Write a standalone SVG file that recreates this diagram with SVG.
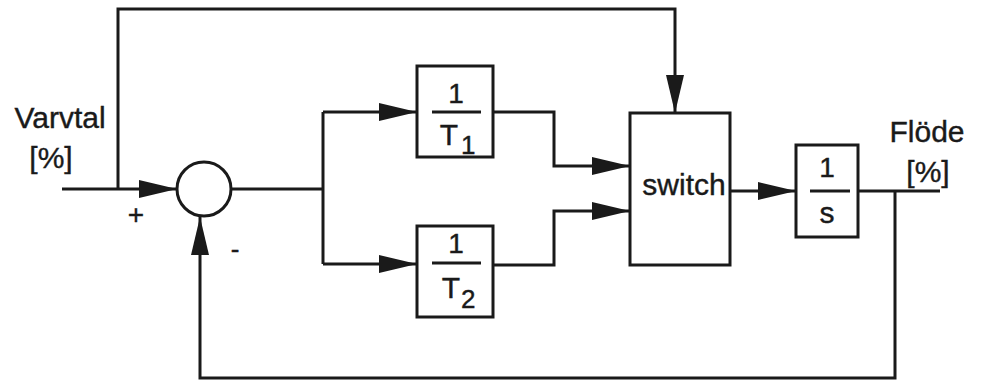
<svg xmlns="http://www.w3.org/2000/svg" width="982" height="381" viewBox="0 0 982 381">
<style>
.ln{fill:none;stroke:#1a1a1a;stroke-width:3}
.bx{fill:#fff;stroke:#1a1a1a;stroke-width:3}
.t{font-family:"Liberation Sans",Arial,sans-serif;fill:#1a1a1a;stroke:#1a1a1a;stroke-width:0.4}
.arr{fill:none;stroke:#1a1a1a;stroke-width:3;marker-end:url(#ah)}
</style>
<defs>
<marker id="ah" markerUnits="userSpaceOnUse" markerWidth="38" markerHeight="18" refX="38" refY="9" orient="auto" viewBox="0 0 38 18">
<path d="M0,0 L38,9 L0,18 Z" fill="#1a1a1a"/>
</marker>
</defs>
<rect width="982" height="381" fill="#fff"/>
<g id="connectors">
<path class="arr" d="M62,189 H177"/>
<path class="arr" d="M118,189 V9 H675 V113"/>
<path class="ln" d="M231,189 H323"/>
<path class="ln" d="M323,112 V264"/>
<path class="arr" d="M323,112 H417"/>
<path class="arr" d="M323,264 H417"/>
<path class="arr" d="M493,112 H554 V166 H630"/>
<path class="arr" d="M493,265 H554 V211 H630"/>
<path class="arr" d="M730,191 H796"/>
<path class="ln" d="M858,191 H940"/>
<path class="arr" d="M895,191 V378 H200 V217"/>
</g>
<g id="sum">
<circle class="bx" cx="204" cy="189" r="27"/>
<text class="t" x="136" y="224" font-size="28" text-anchor="middle">+</text>
<text class="t" x="235" y="258" font-size="26" text-anchor="middle">-</text>
</g>
<g id="input-label">
<text class="t" x="60" y="128" font-size="30" text-anchor="middle">Varvtal</text>
<text class="t" x="51" y="168" font-size="30" text-anchor="middle">[%]</text>
</g>
<g id="T1">
<rect class="bx" x="417" y="66" width="76" height="91"/>
<text class="t" x="456" y="103" font-size="28" text-anchor="middle">1</text>
<line class="ln" x1="432" y1="112" x2="481" y2="112"/>
<text class="t" x="449" y="145" font-size="30" text-anchor="middle">T</text>
<text class="t" x="461" y="154" font-size="26">1</text>
</g>
<g id="T2">
<rect class="bx" x="417" y="226" width="76" height="91"/>
<text class="t" x="456" y="253" font-size="28" text-anchor="middle">1</text>
<line class="ln" x1="432" y1="263" x2="481" y2="263"/>
<text class="t" x="451" y="298" font-size="30" text-anchor="middle">T</text>
<text class="t" x="461" y="308" font-size="26">2</text>
</g>
<g id="switch">
<rect class="bx" x="630" y="113" width="100" height="152"/>
<text class="t" x="684" y="195" font-size="30" text-anchor="middle">switch</text>
</g>
<g id="integrator">
<rect class="bx" x="796" y="145" width="62" height="92"/>
<text class="t" x="827" y="177" font-size="28" text-anchor="middle">1</text>
<line class="ln" x1="810" y1="191" x2="850" y2="191"/>
<text class="t" x="827" y="223" font-size="30" text-anchor="middle">s</text>
</g>
<g id="output-label">
<text class="t" x="927" y="142" font-size="30" text-anchor="middle">Flöde</text>
<text class="t" x="928" y="182" font-size="30" text-anchor="middle">[%]</text>
</g>
</svg>
